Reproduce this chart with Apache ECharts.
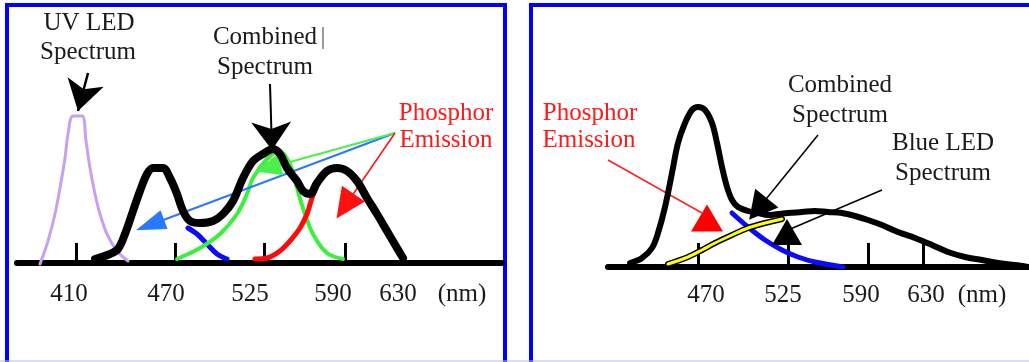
<!DOCTYPE html>
<html>
<head>
<meta charset="utf-8">
<script src="https://cdn.jsdelivr.net/npm/echarts@6/dist/echarts.min.js"></script>
<style>html,body{margin:0;padding:0;background:#fff}#c{width:1029px;height:362px}</style>
</head>
<body>
<div id="c"></div>
<script>
// ---------- LEFT PANEL (UV LED) : x in axis units, y = relative intensity ----------
var leftTickPos   = [59, 158, 247, 328];
var leftLabelPos  = [52, 149, 233, 316, 381, 445];
var leftLabelText = ['410', '470', '525', '590', '630', '(nm)'];

var leftUv = [[23,-1],[31,22],[38,49],[43,75],[48,105],[51,129],[56,147],[65,147],[69,122],[73,95],[78,69],[83,49],[90,29],[100,12],[111,2]];
var leftBlue = [[171,35],[180,29],[190,19],[200,9],[210,4]];
var leftGreen = [[160,4],[183,15],[203,29],[220,49],[230,69],[236,85],[250,104],[262,112],[273,99],[280,75],[286,55],[296,29],[310,10],[326,4]];
var leftRed = [[238,4],[250,5],[263,12],[273,22],[283,35],[290,49],[295,65],[300,78]];
var leftCombined = [[78,4],[93,9],[101,14],[108,29],[116,52],[123,72],[130,89],[136,95],[146,95],[153,85],[160,69],[166,52],[173,42],[183,40],[196,42],[206,49],[216,62],[226,85],[236,102],[246,109],[256,114],[263,109],[270,95],[280,82],[286,72],[293,69],[300,80],[310,92],[320,95],[330,92],[340,82],[350,65],[360,49],[370,32],[380,15],[386,5]];

// ---------- RIGHT PANEL (Blue LED) ----------
var rightTickPos   = [90, 180, 260, 315];
var rightLabelPos  = [98, 175, 253, 318, 374];
var rightLabelText = ['470', '525', '590', '630', '(nm)'];

var rightCombined = [[22,4],[34,9],[44,19],[50,34],[57,60],[64,94],[70,124],[77,144],[84,157],[90,160],[97,157],[104,144],[109,124],[114,100],[119,80],[124,67],[130,60],[140,56],[150,54],[160,52],[170,53],[180,54],[194,55],[207,56],[220,55],[234,54],[247,51],[260,47],[274,42],[290,35],[307,29],[324,22],[340,15],[357,10],[374,7],[390,4],[407,2],[420,0]];
var rightBlue = [[124,54],[140,40],[157,27],[174,17],[190,10],[207,5],[235,0]];
var rightPhosphor = [[60,3],[80,10],[94,17],[107,24],[124,32],[140,39],[157,44],[174,48]];

var SERIF = '"Liberation Serif","DejaVu Serif",serif';

function xAxisFor(grid, max, ticks, labPos, labText, tickLen, margin) {
  return {
    type: 'value', gridIndex: grid, min: 0, max: max,
    splitLine: {show: false},
    axisLine: {show: true, onZero: true, lineStyle: {color: '#000', width: 6}},
    axisTick: {show: true, inside: true, length: tickLen, customValues: ticks, lineStyle: {color: '#000', width: 3}},
    axisLabel: {
      show: true, customValues: labPos, margin: margin,
      fontFamily: SERIF, fontSize: 25, color: '#1a1a1a',
      formatter: function (v) { var i = labPos.indexOf(v); return i >= 0 ? labText[i] : ''; }
    }
  };
}
function yAxisFor(grid) {
  return {type: 'value', gridIndex: grid, min: -10, max: 250, show: false, splitLine: {show: false}};
}
function curve(name, grid, data, color, width, z) {
  return {
    name: name, type: 'line', xAxisIndex: grid, yAxisIndex: grid, data: data,
    showSymbol: false, smooth: 0.35, z: z, silent: true,
    lineStyle: {color: color, width: width, cap: 'round', join: 'round'}
  };
}
function arrow(from, to, color, width, head, headSize) {
  return [
    {coord: from, symbol: 'none', lineStyle: {color: color, width: width, type: 'solid'}},
    {coord: to, symbol: head, symbolSize: headSize, itemStyle: {color: color}}
  ];
}
function txt(s, x, y, color) {
  return {type: 'text', z: 100, style: {text: s, x: x, y: y, font: '25px ' + SERIF, fill: color || '#1a1a1a', textAlign: 'center', textVerticalAlign: 'middle'}};
}

var option = {
  animation: false,
  backgroundColor: '#ffffff',
  grid: [
    {left: 17, top: 13, width: 485, height: 260, show: false},
    {left: 608, top: 17, width: 421, height: 260, show: false}
  ],
  xAxis: [
    xAxisFor(0, 485, leftTickPos, leftLabelPos, leftLabelText, 20, 9),
    xAxisFor(1, 421, rightTickPos, rightLabelPos, rightLabelText, 24, 6)
  ],
  yAxis: [yAxisFor(0), yAxisFor(1)],
  series: [
    curve('UV LED', 0, leftUv, '#c6a0f2', 3, 2),
    curve('Blue phosphor', 0, leftBlue, '#0a0aff', 5, 3),
    curve('Green phosphor', 0, leftGreen, '#3def3d', 4, 3),
    curve('Red phosphor', 0, leftRed, '#ff0a0a', 5, 3),
    curve('Combined', 0, leftCombined, '#000000', 8, 5),
    {
      type: 'line', xAxisIndex: 0, yAxisIndex: 0, data: [], z: 8, silent: true,
      markLine: {
        silent: true, animation: false, label: {show: false}, symbol: ['none', 'arrow'],
        data: [
          arrow([71, 190], [61, 152], '#000', 2.5, 'arrow', [28, 30]),
          arrow([253, 179], [255, 113], '#000', 2, 'arrow', [30, 28]),
          arrow([378, 130], [133, 38], '#2a78ff', 2, 'triangle', [20, 30]),
          arrow([378, 130], [251, 95], '#4cef4c', 2, 'triangle', [22, 26]),
          arrow([378, 130], [328, 57], '#ff1010', 1.5, 'triangle', [28, 30])
        ]
      }
    },
    curve('Blue LED', 1, rightBlue, '#0a0aff', 5, 3),
    curve('Phosphor outline', 1, rightPhosphor, '#000000', 6, 4),
    curve('Phosphor', 1, rightPhosphor, '#ffff00', 3, 4),
    curve('Combined', 1, rightCombined, '#000000', 6, 5),
    {
      type: 'line', xAxisIndex: 1, yAxisIndex: 1, data: [], z: 8, silent: true,
      markLine: {
        silent: true, animation: false, label: {show: false}, symbol: ['none', 'none'],
        data: [
          arrow([0, 107], [94, 54], '#ff2020', 1.5, 'none', 1),
          arrow([210, 132], [150, 58], '#000', 1.5, 'triangle', [30, 28]),
          arrow([274, 77], [180, 37], '#000', 1.5, 'none', 1)
        ]
      },
      markPoint: {
        silent: true, animation: false, label: {show: false},
        data: [
          {coord: [99, 49], symbol: 'triangle', symbolSize: [32, 27], itemStyle: {color: '#ff0000'}},
          {coord: [179, 35], symbol: 'triangle', symbolSize: [30, 26], itemStyle: {color: '#000000'}}
        ]
      }
    }
  ],
  graphic: [
    {type: 'rect', z: 0, shape: {x: 7, y: 5, width: 498, height: 362}, style: {fill: 'none', stroke: '#0000ff', lineWidth: 4}},
    {type: 'rect', z: 0, shape: {x: 531, y: 5, width: 520, height: 362}, style: {fill: 'none', stroke: '#0000ff', lineWidth: 4}},
    {type: 'line', z: 0, shape: {x1: 0, y1: 361, x2: 1029, y2: 361}, style: {stroke: '#b4b8ff', lineWidth: 1}},
    txt('UV LED', 89, 23), txt('Spectrum', 88, 52),
    txt('Combined', 265, 37), txt('|', 323, 37, '#666'), txt('Spectrum', 265, 67),
    txt('Phosphor', 446, 113, '#ff1a1a'), txt('Emission', 446, 140, '#ff1a1a'),
    txt('Phosphor', 590, 113, '#ff1a1a'), txt('Emission', 589, 140, '#ff1a1a'),
    txt('Combined', 840, 85), txt('Spectrum', 840, 115),
    txt('Blue LED', 943, 143), txt('Spectrum', 943, 173)
  ]
};
var chart = echarts.init(document.getElementById('c'), null, {renderer: 'canvas'});
chart.setOption(option);
</script>
</body>
</html>
